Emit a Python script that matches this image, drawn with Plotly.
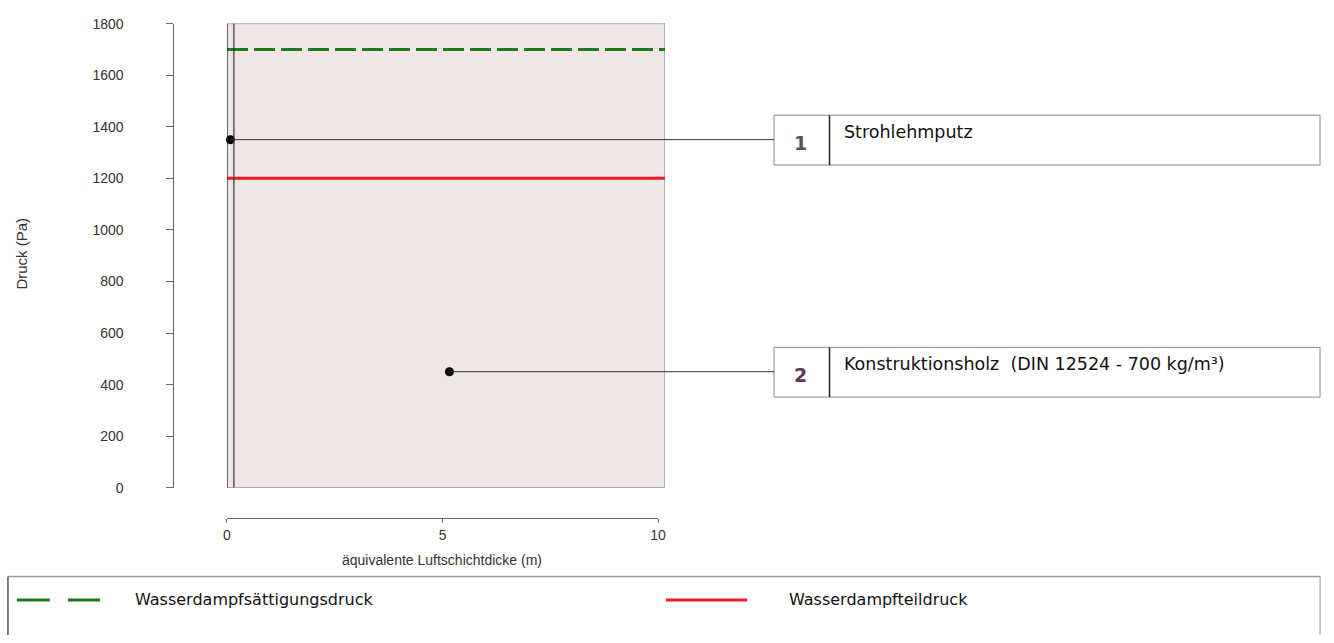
import plotly.graph_objects as go

# ---------------- data ----------------
layer_bounds = [0.0, 0.16, 10.16]          # equivalent air layer thickness boundaries (m)
layer_numbers = ["1", "2"]
layer_names = ["Strohlehmputz", "Konstruktionsholz  (DIN 12524 - 700 kg/m³)"]
layer_label_y = [1350, 450]                 # Pa, where the label connector meets the layer
sat_pressure = [1700, 1700]                 # Wasserdampfsättigungsdruck (Pa)
part_pressure = [1200, 1200]                # Wasserdampfteildruck (Pa)
y_ticks = [0, 200, 400, 600, 800, 1000, 1200, 1400, 1600, 1800]
x_ticks = [0, 5, 10]
series_names = ["Wasserdampfsättigungsdruck", "Wasserdampfteildruck"]

# ---------------- layout helpers ----------------
W, H = 1334, 643
def px(x):
    return x / W
def py(y):
    return 1 - y / H

x_dom = [px(225), px(667)]
y_dom = [py(492), py(16)]
x_range = [layer_bounds[0], layer_bounds[-1]]

def data_x_to_paper(v):
    return x_dom[0] + (v - x_range[0]) / (x_range[1] - x_range[0]) * (x_dom[1] - x_dom[0])

FONT = "Liberation Sans, Arial, sans-serif"
BOXFONT = "DejaVu Sans, Verdana, sans-serif"
green = "#1f7a1f"
red = "#ee1c25"

fig = go.Figure()

# pressure lines
fig.add_trace(go.Scatter(x=x_range, y=sat_pressure, mode="lines",
                         line=dict(color=green, width=3, dash="21px,6px"),
                         name=series_names[0], showlegend=False, hoverinfo="skip"))
fig.add_trace(go.Scatter(x=x_range, y=part_pressure, mode="lines",
                         line=dict(color=red, width=3),
                         name=series_names[1], showlegend=False, hoverinfo="skip"))

# layer centre dots
centers = [(layer_bounds[i] + layer_bounds[i + 1]) / 2 for i in range(len(layer_bounds) - 1)]
fig.add_trace(go.Scatter(x=centers, y=layer_label_y, mode="markers",
                         marker=dict(color="black", size=9, symbol="circle"),
                         showlegend=False, hoverinfo="skip", cliponaxis=False))

# invisible trace to render the separate x axis
fig.add_trace(go.Scatter(x=[x_ticks[0], x_ticks[-1]], y=[0, 0], xaxis="x2", yaxis="y",
                         mode="markers", marker=dict(opacity=0), showlegend=False,
                         hoverinfo="skip"))

shapes = []
# layer rectangle
shapes.append(dict(type="rect", xref="x", yref="y", x0=x_range[0], x1=x_range[1],
                   y0=y_ticks[0], y1=y_ticks[-1], fillcolor="#f0e6e6",
                   line=dict(color="#777777", width=1), layer="below"))
# layer boundaries
for b in layer_bounds[:-1]:
    shapes.append(dict(type="line", xref="x", yref="y", x0=b, x1=b,
                       y0=y_ticks[0], y1=y_ticks[-1],
                       line=dict(color="#333333", width=1.2)))

# label boxes and connectors
box_tops = [110, 348]
box_h = 51
for i, (num, name) in enumerate(zip(layer_numbers, layer_names)):
    top = box_tops[i]
    bot = top + box_h
    shapes.append(dict(type="rect", xref="paper", yref="paper", x0=px(777), x1=px(1328),
                       y0=py(bot), y1=py(top), fillcolor="white",
                       line=dict(color="#888888", width=1)))
    shapes.append(dict(type="line", xref="paper", yref="paper", x0=px(833), x1=px(833),
                       y0=py(bot), y1=py(top), line=dict(color="#222222", width=1.5)))
    shapes.append(dict(type="line", xref="paper", yref="y", x0=data_x_to_paper(centers[i]),
                       x1=px(777), y0=layer_label_y[i], y1=layer_label_y[i],
                       line=dict(color="#333333", width=1)))

# legend box
shapes.append(dict(type="line", xref="paper", yref="paper", x0=px(4), x1=px(1328),
                   y0=py(583), y1=py(583), line=dict(color="#999999", width=1.5)))
shapes.append(dict(type="line", xref="paper", yref="paper", x0=px(4), x1=px(4),
                   y0=py(583), y1=0, line=dict(color="#555555", width=1.5)))
shapes.append(dict(type="line", xref="paper", yref="paper", x0=px(1328), x1=px(1328),
                   y0=py(583), y1=0, line=dict(color="#999999", width=1)))
# legend samples
shapes.append(dict(type="line", xref="paper", yref="paper", x0=px(13), x1=px(97),
                   y0=py(607), y1=py(607), line=dict(color=green, width=3, dash="33px,18px")))
shapes.append(dict(type="line", xref="paper", yref="paper", x0=px(668), x1=px(750),
                   y0=py(607), y1=py(607), line=dict(color=red, width=3)))

annotations = []
num_colors = ["#555555", "#5c3d4e"]
for i, (num, name) in enumerate(zip(layer_numbers, layer_names)):
    top = box_tops[i]
    annotations.append(dict(xref="paper", yref="paper", x=px(804), y=py(top + 28),
                            text="<b>%s</b>" % num, showarrow=False, xanchor="center",
                            yanchor="middle", font=dict(family=BOXFONT, size=19,
                                                        color=num_colors[i])))
    annotations.append(dict(xref="paper", yref="paper", x=px(846), y=py(top + 17),
                            text=name, showarrow=False, xanchor="left", yanchor="middle",
                            font=dict(family=BOXFONT, size=17.5, color="#111111")))

annotations.append(dict(xref="paper", yref="paper", x=px(130), y=py(607),
                        text=series_names[0], showarrow=False, xanchor="left",
                        yanchor="middle", font=dict(family=BOXFONT, size=16, color="#111111")))
annotations.append(dict(xref="paper", yref="paper", x=px(790), y=py(607),
                        text=series_names[1], showarrow=False, xanchor="left",
                        yanchor="middle", font=dict(family=BOXFONT, size=16, color="#111111")))
# axis titles
annotations.append(dict(xref="paper", yref="paper", x=px(18), y=py(252), text="Druck (Pa)",
                        textangle=-90, showarrow=False, xanchor="center", yanchor="middle",
                        font=dict(family=FONT, size=15, color="#333333")))
annotations.append(dict(xref="paper", yref="paper", x=px(442), y=py(566),
                        text="äquivalente Luftschichtdicke (m)", showarrow=False,
                        xanchor="center", yanchor="middle",
                        font=dict(family=FONT, size=14, color="#333333")))

fig.update_layout(
    width=W, height=H,
    margin=dict(l=0, r=0, t=0, b=0),
    paper_bgcolor="white", plot_bgcolor="rgba(0,0,0,0)",
    showlegend=False,
    xaxis=dict(domain=x_dom, range=x_range, visible=False, fixedrange=True),
    xaxis2=dict(domain=[px(225), px(660)], range=[x_ticks[0], x_ticks[-1]],
                anchor="free", position=py(523), showline=True, linecolor="#666666",
                linewidth=1, ticks="outside", ticklen=4, tickcolor="#666666",
                tickvals=x_ticks, showgrid=False, zeroline=False,
                tickfont=dict(family=FONT, size=14, color="#333333")),
    yaxis=dict(domain=y_dom, range=[y_ticks[0], y_ticks[-1]], anchor="free",
               position=px(171), showline=True, linecolor="#666666", linewidth=1,
               ticks="outside", ticklen=7, tickcolor="#666666", tickvals=y_ticks,
               showgrid=False, zeroline=False, ticklabelstandoff=40,
               tickfont=dict(family=FONT, size=14, color="#333333")),
    shapes=shapes,
    annotations=annotations,
)

fig.write_html("out.html", config={"displayModeBar": False},
               post_script="document.body.style.margin='0px';")
